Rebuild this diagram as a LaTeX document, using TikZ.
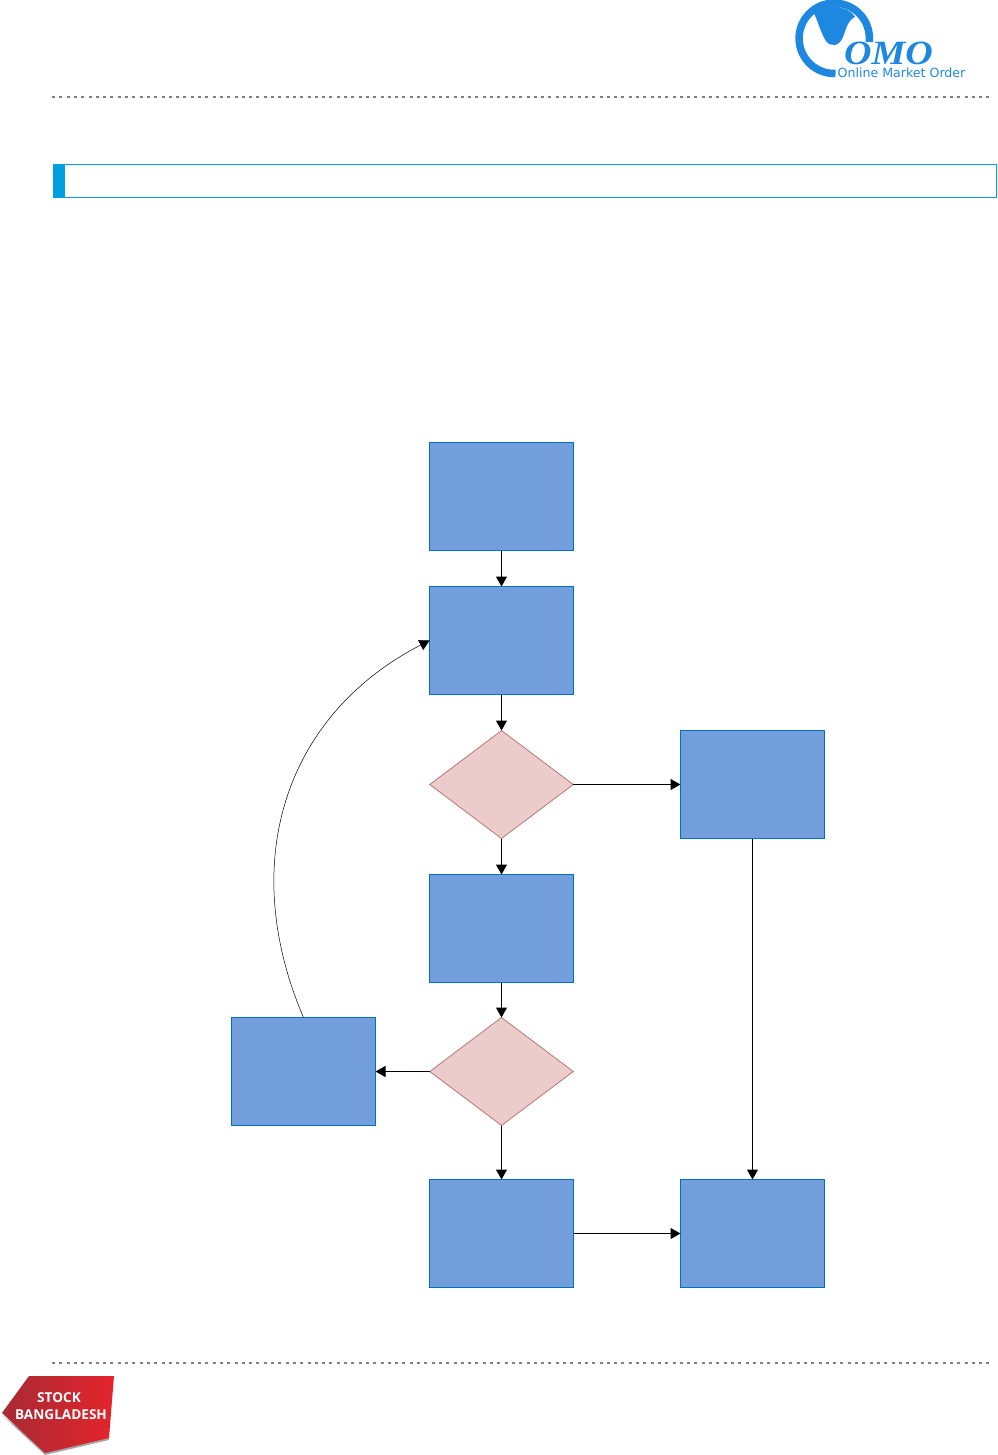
\documentclass[tikz,border=0pt]{standalone}
\usepackage{fontspec}
\setmainfont{DejaVu Sans}
\newfontfamily\omofont{Liberation Serif}
\newfontfamily\stockfont{Open Sans}
\usetikzlibrary{shapes.geometric,arrows.meta}
\definecolor{boxfill}{HTML}{729EDB}
\definecolor{boxline}{HTML}{0070C0}
\definecolor{decfill}{HTML}{ECCCCB}
\definecolor{decline}{HTML}{B56B6B}
\definecolor{headcol}{HTML}{009FDF}
\definecolor{logoblue}{HTML}{1E88E0}
\definecolor{dashgray}{HTML}{808080}
\definecolor{stockdark}{HTML}{A82A35}
\definecolor{stockbright}{HTML}{E4242C}
\tikzset{
  procbox/.style={draw=boxline,fill=boxfill,line width=0.9pt,minimum width=144pt,minimum height=108pt,inner sep=0pt,outer sep=0pt,rectangle},
  decbox/.style={draw=decline,fill=decfill,line width=0.7pt,diamond,aspect=1.3333,minimum width=143.5pt,minimum height=108pt,inner sep=0pt,outer sep=0pt},
  flow/.style={draw=black,line width=1pt,-{Triangle[length=10pt,width=11pt]}},
  rule/.style={draw=dashgray,line width=2pt,dash pattern=on 3pt off 4.3pt}
}
\begin{document}
\begin{tikzpicture}[x=1pt,y=-1pt]
\useasboundingbox (0,0) rectangle (997,1455);
% header / footer rules
\coordinate (r1a) at (52,97); \coordinate (r1b) at (991,97);
\coordinate (r2a) at (52,1362.5); \coordinate (r2b) at (991,1362.5);
\draw[rule] (r1a) -- (r1b);
\draw[rule] (r2a) -- (r2b);
% section bar
\draw[headcol,line width=1.2pt] (53.5,164.8) rectangle (996.5,197.4);
\fill[headcol] (53,164) rectangle (65,198);
% logo
\draw[logoblue,line width=7.5pt] (835.5,73.5) arc[start angle=88,end angle=366,radius=35.2];
\fill[logoblue] (812,10) .. controls (817,17) and (820,32) .. (826,41)
  .. controls (830,47) and (839,47) .. (843,37)
  .. controls (846,29) and (848,20) .. (855,17)
  .. controls (850,6) and (820,2) .. (812,10) -- cycle;
\node[inner sep=0pt,text=logoblue,xscale=1.12,text depth=0pt,font=\omofont\bfseries\itshape\fontsize{34}{34}\selectfont,anchor=base] (omo) at (888.5,65) {OMO};
\node[inner sep=0pt,text=logoblue,font=\fontsize{12.6}{13}\selectfont,anchor=base] (omotag) at (901.5,78) {Online Market Order};
% stock logo
\fill[black!35] (2,1415) -- (45,1455) -- (109,1440) -- (109,1436) -- (45,1450) -- cycle;
\shade[left color=stockdark,right color=stockbright] (29,1376) -- (114,1376) -- (109,1438) -- (45,1453) -- (2,1413) -- cycle;
\node[inner sep=0pt,text=white,font=\stockfont\bfseries\fontsize{13.6}{14}\selectfont] (st1) at (59,1398) {STOCK};
\node[inner sep=0pt,text=white,font=\stockfont\bfseries\fontsize{13.6}{14}\selectfont] (st2) at (61,1414.5) {BANGLADESH};
% flowchart
\node[procbox] (a) at (501.5,496.5) {};
\node[procbox] (b) at (501.5,640.5) {};
\node[decbox] (d1) at (501.5,784.5) {};
\node[procbox] (r) at (752.5,784.5) {};
\node[procbox] (c) at (501.5,928.5) {};
\node[decbox] (d2) at (501.5,1071.5) {};
\node[procbox] (l) at (303.5,1071.5) {};
\node[procbox] (e) at (501.5,1233.5) {};
\node[procbox] (f) at (752.5,1233.5) {};
\draw[flow] (a) -- (b);
\draw[flow] (b) -- (d1);
\draw[flow] (d1) -- (r);
\draw[flow] (d1) -- (c);
\draw[flow] (c) -- (d2);
\draw[flow] (d2) -- (l);
\draw[flow] (d2) -- (e);
\draw[flow] (e) -- (f);
\draw[flow] (r) -- (f);
\draw[draw=black,line width=0.5pt,-{Triangle[length=10pt,width=11pt]}] (l.north) .. controls (237,862) and (285,715) .. (b.west);
\end{tikzpicture}
\end{document}
